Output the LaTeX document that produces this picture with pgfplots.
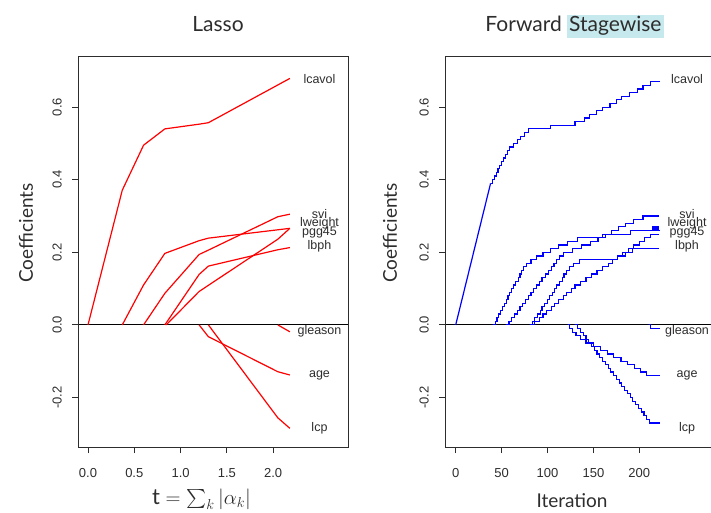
\documentclass[border=0pt]{standalone}
\usepackage{fontspec}
\usepackage{graphicx}
\usepackage{pgfplots}
\pgfplotsset{compat=1.18}
\setmainfont{Lato}
\newfontfamily\arialf{Liberation Sans}
\definecolor{hl}{RGB}{198,233,237}
\definecolor{txt}{RGB}{45,45,45}
\newcommand\tickfont{\arialf\fontsize{13}{15}\selectfont}
\newcommand\lblfont{\arialf\fontsize{12.5}{14}\selectfont}
\pgfplotsset{myax/.style={
  scale only axis, height=391pt, ymin=-0.3364, ymax=0.7408,
  axis line style={draw=none},
  tick align=outside, major tick length=6pt,
  tick style={txt, line width=0.8pt},
  ytick={-0.2,0,0.2,0.4,0.6}, yticklabels={-0.2,0.0,0.2,0.4,0.6},
  xtick pos=left, ytick pos=left,
  ticklabel style={font=\tickfont, text=txt},
  yticklabel style={rotate=90, anchor=south, inner sep=0pt},
  xticklabel style={anchor=north, inner sep=0pt},
  yticklabel shift=10pt, xticklabel shift=15pt,
  clip=false},
  rl/.style={draw=red, line width=1.2pt, mark=none, solid},
  bl/.style={draw=blue, line width=1.2pt, mark=none, solid},
  bs/.style={draw=blue, line width=1.2pt, mark=none, solid, const plot}}
\begin{document}
\begin{tikzpicture}[x=1pt,y=1pt]
\useasboundingbox (0,0) rectangle (711,512);
% ---------------- Lasso
\begin{axis}[myax, at={(78pt,65pt)}, anchor=south west, width=270pt,
  xmin=-0.108, xmax=2.808,
  xtick={0,0.5,1,1.5,2}, xticklabels={0.0,0.5,1.0,1.5,2.0}]
\draw[black, line width=0.8pt] (axis cs:-0.108,0) -- (axis cs:2.808,0);
\addplot[rl] coordinates {(0,0)(0.37,0.371)(0.60,0.495)(0.83,0.540)(1.20,0.553)(1.30,0.557)(2.05,0.661)(2.18,0.679)};
\addplot[rl] coordinates {(0.37,0)(0.60,0.110)(0.83,0.197)(1.20,0.232)(1.30,0.239)(2.05,0.262)(2.18,0.266)};
\addplot[rl] coordinates {(0.60,0)(0.83,0.087)(1.20,0.194)(1.30,0.206)(2.05,0.298)(2.18,0.305)};
\addplot[rl] coordinates {(0.83,0)(1.20,0.139)(1.30,0.162)(2.05,0.207)(2.18,0.213)};
\addplot[rl] coordinates {(0.845,0)(1.20,0.092)(1.30,0.109)(2.05,0.236)(2.18,0.266)};
\addplot[rl] coordinates {(1.20,0)(1.30,-0.0325)(2.05,-0.129)(2.18,-0.138)};
\addplot[rl] coordinates {(1.30,0)(2.05,-0.256)(2.18,-0.285)};
\addplot[rl] coordinates {(2.05,0)(2.18,-0.019)};
\draw[txt, line width=1pt] (rel axis cs:0,0) rectangle (rel axis cs:1,1);
\begin{scope}[every node/.style={font=\lblfont, text=txt, anchor=base, inner sep=0pt}]
\node at (axis cs:2.5,0.666) {lcavol};
\node at (axis cs:2.5,0.294) {svi};
\node at (axis cs:2.5,0.2705) {lweight};
\node at (axis cs:2.5,0.2457) {pgg45};
\node at (axis cs:2.5,0.208) {lbph};
\node at (axis cs:2.5,-0.0278) {gleason};
\node at (axis cs:2.5,-0.144) {age};
\node at (axis cs:2.5,-0.294) {lcp};
\end{scope}
\end{axis}
% ---------------- Stagewise
\begin{axis}[myax, at={(445pt,65pt)}, anchor=south west, width=266pt,
  xmin=-11.66, xmax=278.1,
  xtick={0,50,100,150,200}, xticklabels={0,50,100,150,200}]
\draw[black, line width=0.8pt] (axis cs:-11.66,0) -- (axis cs:278.1,0);
\addplot[bl] coordinates {(0,0)(38,0.39)};
\addplot[bs] coordinates {(38,0.39)(40,0.40)(42,0.41)(44,0.42)(46,0.43)(48,0.44)(50,0.45)(52,0.46)(54,0.47)(56,0.48)(59,0.49)(63,0.50)(67,0.51)(71,0.52)(75,0.53)(79,0.54)(103,0.55)(130,0.56)(140,0.57)(146,0.58)(153,0.59)(160,0.60)(168,0.61)(175,0.62)(181,0.63)(189,0.64)(198,0.65)(204,0.66)(212,0.67)(222,0.67)};
\addplot[bs] coordinates {(41,0)(43,0.01)(45,0.02)(47,0.03)(49,0.04)(51,0.05)(53,0.06)(55,0.07)(57,0.08)(59,0.09)(61,0.10)(63,0.11)(65,0.12)(68,0.13)(70,0.14)(72,0.15)(74,0.16)(77,0.17)(82,0.18)(88,0.19)(95,0.20)(103,0.21)(112,0.22)(122,0.23)(133,0.24)(160,0.25)(190,0.26)(214,0.27)(215,0.26)(216,0.27)(217,0.26)(218,0.27)(219,0.26)(220,0.27)(221,0.26)(222,0.26)};
\addplot[bs] coordinates {(55,0)(58,0.01)(61,0.02)(64,0.03)(67,0.04)(70,0.05)(73,0.06)(76,0.07)(79,0.08)(82,0.09)(85,0.10)(88,0.11)(91,0.12)(94,0.13)(98,0.14)(101,0.15)(104,0.16)(107,0.17)(110,0.18)(113,0.19)(117,0.20)(127,0.21)(137,0.22)(147,0.23)(155,0.24)(163,0.25)(170,0.26)(177,0.27)(185,0.28)(194,0.29)(204,0.30)(221,0.30)};
\addplot[bs] coordinates {(81,0)(84,0.01)(86,0.02)(89,0.03)(92,0.04)(94,0.05)(97,0.06)(100,0.07)(102,0.08)(105,0.09)(108,0.10)(110,0.11)(113,0.12)(116,0.13)(118,0.14)(121,0.15)(124,0.16)(128,0.17)(135,0.18)(176,0.19)(185,0.20)(193,0.21)(221,0.21)};
\addplot[bs] coordinates {(82,0)(86,0.01)(91,0.02)(95,0.03)(99,0.04)(104,0.05)(108,0.06)(112,0.07)(117,0.08)(121,0.09)(126,0.10)(130,0.11)(136,0.12)(142,0.13)(148,0.14)(154,0.15)(160,0.16)(166,0.17)(171,0.18)(176,0.19)(182,0.20)(188,0.21)(194,0.22)(200,0.23)(206,0.24)(212,0.25)(221,0.25)};
\addplot[bs] coordinates {(122,0)(124,-0.01)(127,-0.02)(131,-0.03)(136,-0.04)(142,-0.05)(150,-0.06)(158,-0.07)(165,-0.08)(172,-0.09)(180,-0.10)(187,-0.11)(195,-0.12)(201,-0.13)(208,-0.14)(222,-0.14)};
\addplot[bs] coordinates {(130,0)(133,-0.01)(136,-0.02)(139,-0.03)(142,-0.04)(145,-0.05)(148,-0.06)(151,-0.07)(154,-0.08)(157,-0.09)(160,-0.10)(163,-0.11)(166,-0.12)(169,-0.13)(172,-0.14)(175,-0.15)(178,-0.16)(181,-0.17)(184,-0.18)(187,-0.19)(190,-0.20)(193,-0.21)(196,-0.22)(199,-0.23)(202,-0.24)(205,-0.25)(208,-0.26)(211,-0.27)(222,-0.27)};
\addplot[bs] coordinates {(211,0)(212,-0.01)(222,-0.01)};
\draw[txt, line width=1pt] (rel axis cs:1,1) -- (rel axis cs:0,1) -- (rel axis cs:0,0) -- (rel axis cs:1,0);
\begin{scope}[every node/.style={font=\lblfont, text=txt, anchor=base, inner sep=0pt}]
\node at (axis cs:252,0.666) {lcavol};
\node at (axis cs:252,0.294) {svi};
\node at (axis cs:252,0.2705) {lweight};
\node at (axis cs:252,0.2457) {pgg45};
\node at (axis cs:252,0.208) {lbph};
\node at (axis cs:252,-0.0278) {gleason};
\node at (axis cs:252,-0.144) {age};
\node at (axis cs:252,-0.294) {lcp};
\end{scope}
\end{axis}
% ---------------- titles and labels
\node[anchor=base, font=\fontsize{21}{24}\selectfont, text=txt, inner sep=0pt] at (218,480) {Lasso};
\node[anchor=base, font=\fontsize{21}{24}\selectfont, text=txt, inner sep=0pt] at (574.5,480) {Forward \setlength{\fboxsep}{2pt}\colorbox{hl}{Stagewise}};
\node[rotate=90, font=\fontsize{19}{22}\selectfont, text=txt, inner sep=0pt] at (26,279) {Coefficients};
\node[rotate=90, font=\fontsize{19}{22}\selectfont, text=txt, inner sep=0pt] at (390,279) {Coefficients};
\node[anchor=base, font=\fontsize{22}{26}\selectfont, text=txt, inner sep=0pt] at (201.5,8) {$\mathrm{t} = \mathop{\vcenter{\hbox{\scalebox{1.9}{$\sum$}}}}\nolimits_k |\alpha_k|$};
\node[anchor=base, font=\fontsize{19}{22}\selectfont, text=txt, inner sep=0pt] at (572,5) {Iteration};
\end{tikzpicture}
\end{document}
